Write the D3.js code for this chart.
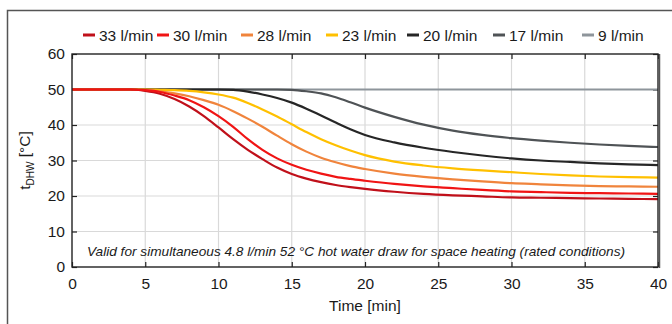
<!DOCTYPE html>
<html><head><meta charset="utf-8">
<script src="https://cdn.jsdelivr.net/npm/d3@7"></script>
<style>
html,body{margin:0;padding:0;background:#fff;}
text{font-family:"Liberation Sans",Arial,sans-serif;fill:#1a1a1a;}
</style></head>
<body>
<svg id="c" width="672" height="324"></svg>
<script>
const times = [0,2,4,5,6,7,8,9,10,11,12,13,14,15,16,17,18,19,20,22,24,26,28,30,32,34,36,38,40];
const s33 = [50,50,50,49.6,48.8,47.3,45.2,42.5,39.3,36.0,33.0,30.4,28.0,26.2,24.9,23.9,23.1,22.5,22.0,21.2,20.6,20.2,19.9,19.6,19.5,19.4,19.3,19.2,19.1];
const s30 = [50,50,50,49.8,49.3,48.3,47.0,45.0,42.5,39.5,36.0,33.0,30.6,28.8,27.4,26.3,25.4,24.8,24.3,23.4,22.7,22.2,21.7,21.3,21.1,20.9,20.8,20.7,20.6];
const s28 = [50,50,50,49.9,49.5,48.9,48.1,47.0,45.7,43.9,41.8,39.5,37.0,34.6,32.5,30.8,29.5,28.4,27.6,26.3,25.4,24.7,24.1,23.6,23.3,23.0,22.8,22.7,22.6];
const s23 = [50,50,50,50,49.9,49.8,49.6,49.2,48.6,47.7,46.2,44.4,42.4,40.2,38.0,36.0,34.3,32.8,31.5,29.7,28.6,27.8,27.2,26.7,26.2,25.8,25.5,25.3,25.2];
const s20 = [50,50,50,50,50,50,50,50,50,49.9,49.4,48.6,47.6,46.3,44.6,42.7,40.7,38.8,37.2,35.1,33.6,32.4,31.4,30.6,30.0,29.6,29.2,28.9,28.7];
const s17 = [50,50,50,50,50,50,50,50,50,50,50,50,50,49.9,49.5,48.9,47.8,46.4,44.9,42.3,40.1,38.4,37.2,36.3,35.6,35.0,34.5,34.1,33.8];
const s9  = [50,50,50,50,50,50,50,50,50,50,50,50,50,50,50,50,50,50,50,50,50,50,50,50,50,50,50,50,50];
const seriesNames = ["33 l/min","30 l/min","28 l/min","23 l/min","20 l/min","17 l/min","9 l/min"];
const seriesValues = [s33,s30,s28,s23,s20,s17,s9];
const seriesColors = ["#c0101a","#f01414","#f0843c","#ffc000","#262626","#4f5356","#8e959b"];
const xTicks = [0,5,10,15,20,25,30,35,40];
const yTicks = [0,10,20,30,40,50,60];
const annotation = "Valid for simultaneous 4.8 l/min 52 °C hot water draw for space heating (rated conditions)";

const svg = d3.select("#c");
const L=72, R=658, T=54, B=267;
const x = d3.scaleLinear().domain([0,40]).range([L,R]);
const y = d3.scaleLinear().domain([0,60]).range([B,T]);

// outer frame
svg.append("path").attr("d",`M7.5,324 V10.5 H672`).attr("fill","none").attr("stroke","#555").attr("stroke-width",1.5);

// grid
const g = svg.append("g");
g.selectAll("line.vg").data(xTicks.slice(1,-1)).enter().append("line")
 .attr("x1",d=>x(d)).attr("x2",d=>x(d)).attr("y1",T).attr("y2",B)
 .attr("stroke","#d9d9d9").attr("stroke-width",1.2);
g.selectAll("line.hg").data(yTicks.slice(1,-1)).enter().append("line")
 .attr("x1",L).attr("x2",R).attr("y1",d=>y(d)).attr("y2",d=>y(d))
 .attr("stroke","#d9d9d9").attr("stroke-width",1.2);

// axes
const fmt = d3.format("d");
const ax = svg.append("g").attr("transform",`translate(0,${B})`)
 .call(d3.axisBottom(x).tickValues(xTicks).tickSizeInner(-5).tickSizeOuter(0).tickPadding(11).tickFormat(fmt));
const ay = svg.append("g").attr("transform",`translate(${L},0)`)
 .call(d3.axisLeft(y).tickValues(yTicks).tickSizeInner(-5).tickSizeOuter(0).tickPadding(7).tickFormat(fmt));
const axT = svg.append("g").attr("transform",`translate(0,${T})`)
 .call(d3.axisTop(x).tickValues(xTicks).tickSizeInner(-5).tickSizeOuter(0).tickFormat(""));
const ayR = svg.append("g").attr("transform",`translate(${R},0)`)
 .call(d3.axisRight(y).tickValues(yTicks).tickSizeInner(-5).tickSizeOuter(0).tickFormat(""));
[ax,ay,axT,ayR].forEach(a=>{
  a.select(".domain").remove();
  a.selectAll("line").attr("stroke","#222").attr("stroke-width",1.2);
  a.selectAll("text").style("font-size","15.5px").attr("fill","#1a1a1a").style("font-family","'Liberation Sans',Arial,sans-serif");
});

// lines
const line = d3.line().x((d,i)=>x(times[i])).y(d=>y(d)).curve(d3.curveMonotoneX);
const order = [6,5,4,3,2,0,1];
svg.append("g").selectAll("path").data(order).enter().append("path")
 .attr("d",i=>line(seriesValues[i])).attr("fill","none")
 .attr("stroke",i=>seriesColors[i]).attr("stroke-width",2.2);

// plot frame
svg.append("rect").attr("x",L).attr("y",T).attr("width",R-L).attr("height",B-T)
 .attr("fill","none").attr("stroke","#222").attr("stroke-width",1.4);
svg.append("line").attr("x1",R+1.5).attr("x2",R+1.5).attr("y1",T).attr("y2",B+1)
 .attr("stroke","#555").attr("stroke-width",1.5);

// annotation
svg.append("text").attr("x",87).attr("y",256).text(annotation)
 .style("font-size","13px").style("font-style","italic").attr("textLength",538).attr("lengthAdjust","spacingAndGlyphs");

// axis labels
svg.append("text").attr("x",x(20)).attr("y",311).attr("text-anchor","middle").style("font-size","15.5px").text("Time [min]");
const yl = svg.append("text").attr("transform",`translate(30,${(T+B)/2}) rotate(-90)`).attr("text-anchor","middle").style("font-size","15.5px");
yl.append("tspan").text("t");
yl.append("tspan").attr("dy",4).style("font-size","10px").text("DHW");
yl.append("tspan").attr("dy",-4).text(" [°C]");

// legend
const legX = [83,157,241,326,407,493,582];
const leg = svg.append("g").selectAll("g").data(seriesNames).enter().append("g")
 .attr("transform",(d,i)=>`translate(${legX[i]},35)`);
leg.append("line").attr("x1",0).attr("x2",12).attr("y1",0).attr("y2",0)
 .attr("stroke",(d,i)=>seriesColors[i]).attr("stroke-width",3);
leg.append("text").attr("x",16).attr("y",5.5).style("font-size","15.5px").text(d=>d);
</script>
</body></html>
